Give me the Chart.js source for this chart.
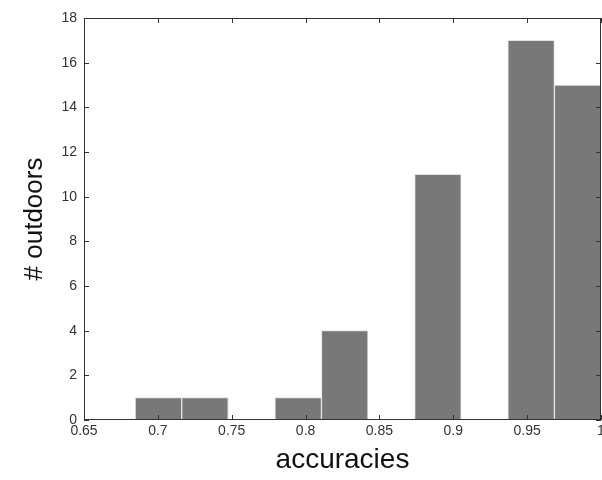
<!DOCTYPE html>
<html>
<head>
<meta charset="utf-8">
<script src="https://cdn.jsdelivr.net/npm/chart.js@4"></script>
<style>
  html, body { margin: 0; padding: 0; background: #fff; overflow: hidden; }
  canvas { display: block; }
</style>
</head>
<body>
<canvas id="hist" width="602" height="480"></canvas>
<script>
// bin centres (accuracy) and how many outdoor scenes fall in each bin
const binCenters = [0.7004, 0.7319, 0.7635, 0.7950, 0.8265, 0.8581, 0.8896, 0.9212, 0.9527, 0.9842];
const counts = [1, 1, 0, 1, 4, 0, 11, 0, 17, 15];
const xTicks = [0.65, 0.7, 0.75, 0.8, 0.85, 0.9, 0.95, 1];
const yTicks = [0, 2, 4, 6, 8, 10, 12, 14, 16, 18];

const FONT = "'Liberation Sans', Arial, sans-serif";

// matplotlib-like box with inward tick marks
const frame = {
  id: 'frame',
  afterDatasetsDraw(chart) {
    const { ctx, chartArea: a, scales: { x, y } } = chart;
    ctx.save();
    ctx.strokeStyle = '#333';
    ctx.lineWidth = 1;
    ctx.beginPath();
    x.ticks.forEach(t => {
      const p = Math.round(x.getPixelForValue(t.value)) + 0.5;
      ctx.moveTo(p, a.bottom); ctx.lineTo(p, a.bottom - 5);
      ctx.moveTo(p, a.top); ctx.lineTo(p, a.top + 5);
    });
    y.ticks.forEach(t => {
      const p = Math.round(y.getPixelForValue(t.value)) + 0.5;
      ctx.moveTo(a.left, p); ctx.lineTo(a.left + 5, p);
      ctx.moveTo(a.right, p); ctx.lineTo(a.right - 5, p);
    });
    ctx.stroke();
    ctx.strokeRect(a.left + 0.5, a.top + 0.5, a.width - 1, a.height - 1);
    ctx.restore();
  }
};

new Chart(document.getElementById('hist'), {
  type: 'bar',
  data: {
    datasets: [{
      data: binCenters.map((c, i) => ({ x: c, y: counts[i] })),
      backgroundColor: '#787878',
      borderColor: '#e2e2e2',
      borderWidth: 1,
      barPercentage: 1,
      categoryPercentage: 1
    }]
  },
  options: {
    responsive: false,
    animation: false,
    layout: { padding: { top: 18, right: 1, left: 0, bottom: 0 } },
    plugins: { legend: { display: false }, tooltip: { enabled: false } },
    scales: {
      x: {
        type: 'linear',
        offset: false,
        min: 0.65,
        max: 1,
        afterBuildTicks: s => { s.ticks = xTicks.map(v => ({ value: v })); },
        afterFit: s => { s.height = 60; s.paddingLeft = 0; s.paddingRight = 0; },
        grid: { display: false, drawTicks: false },
        border: { display: false },
        ticks: {
          padding: 3,
          maxRotation: 0,
          autoSkip: false,
          color: '#333',
          font: { family: FONT, size: 14 },
          callback: v => String(Number(v.toFixed(2)))
        },
        title: {
          display: true,
          text: 'accuracies',
          color: '#111',
          font: { family: FONT, size: 28 },
          padding: { top: 0, bottom: 3 }
        }
      },
      y: {
        min: 0,
        max: 18,
        afterBuildTicks: s => { s.ticks = yTicks.map(v => ({ value: v })); },
        afterFit: s => { s.width = 84; s.paddingTop = 0; s.paddingBottom = 0; },
        grid: { display: false, drawTicks: false },
        border: { display: false },
        ticks: {
          padding: 7,
          color: '#333',
          font: { family: FONT, size: 14 }
        },
        title: {
          display: true,
          text: '# outdoors',
          color: '#111',
          font: { family: FONT, size: 26 },
          padding: { top: 19, bottom: 0 }
        }
      }
    }
  },
  plugins: [frame]
});
</script>
</body>
</html>
